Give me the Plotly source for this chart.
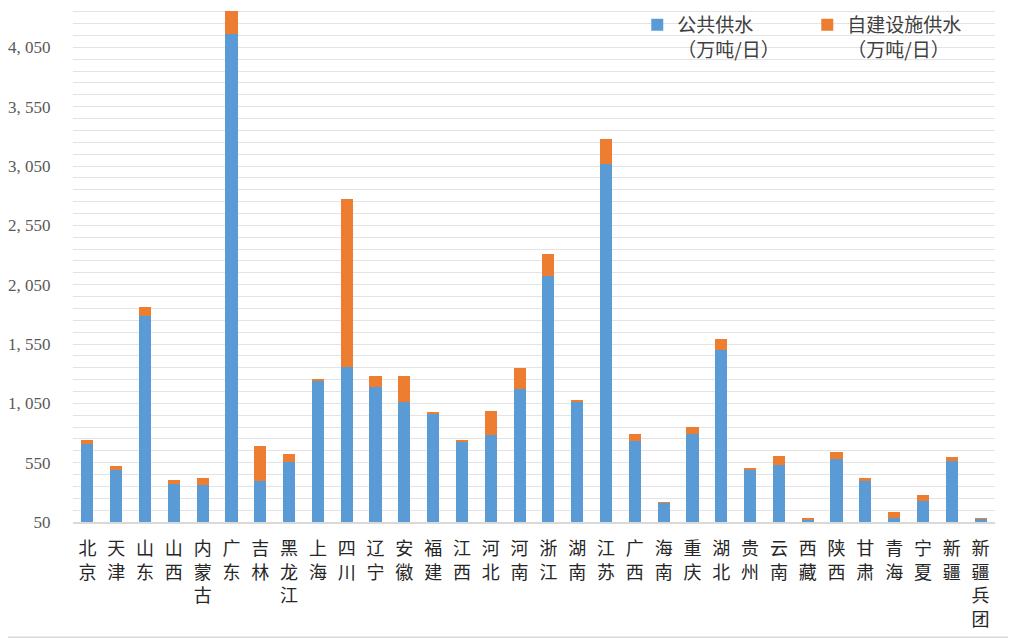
import plotly.graph_objects as go

# 各省份城市供水能力（万吨/日）
provinces = ["北京", "天津", "山东", "山西", "内蒙古", "广东", "吉林", "黑龙江", "上海",
             "四川", "辽宁", "安徽", "福建", "江西", "河北", "河南", "浙江", "湖南",
             "江苏", "广西", "海南", "重庆", "湖北", "贵州", "云南", "西藏", "陕西",
             "甘肃", "青海", "宁夏", "新疆", "新疆兵团"]
public_supply = [710, 490, 1785, 374, 360, 4163, 392, 557, 1246,
                 1359, 1188, 1058, 957, 731, 786, 1174, 2121, 1058,
                 3071, 734, 212, 792, 1498, 493, 531, 67, 577,
                 398, 82, 227, 568, 82]
self_supply = [35, 32, 75, 26, 58, 194, 295, 64, 6,
               1414, 96, 226, 23, 11, 200, 174, 185, 20,
               209, 58, 3, 60, 93, 9, 72, 12, 61,
               23, 49, 49, 27, 1]

tick_vals = [50, 550, 1050, 1550, 2050, 2550, 3050, 3550, 4050]
tick_text = [f"{v:,}".replace(",", ", ") for v in tick_vals]

# 竖排省份名
labels = ["<br>".join(p) for p in provinces]

fig = go.Figure()
fig.add_trace(go.Bar(x=labels, y=public_supply, name="公共供水<br>（万吨/日）",
                     marker=dict(color="#5b9bd5", line=dict(width=0))))
fig.add_trace(go.Bar(x=labels, y=self_supply, name="自建设施供水<br>（万吨/日）",
                     marker=dict(color="#ed7d31", line=dict(width=0))))

# 页面 body 有 8px 边距，尺寸和边距相应减去
fig.update_layout(
    width=1008,
    height=630,
    barmode="stack",
    bargap=0.58,
    plot_bgcolor="white",
    paper_bgcolor="white",
    font=dict(family="Noto Sans CJK SC", color="#595959", size=18),
    margin=dict(l=65, r=21, t=2, b=115.5, autoexpand=False),
    legend=dict(orientation="h", x=0.612, y=1.008, xanchor="left", yanchor="top",
                font=dict(size=19, color="#404040"), bgcolor="rgba(0,0,0,0)",
                valign="top", itemwidth=30, entrywidth=125, entrywidthmode="pixels",
                traceorder="normal"),
    shapes=[dict(type="line", xref="paper", yref="paper", x0=-0.08, x1=1.03,
                 y0=-0.2254, y1=-0.2254, line=dict(color="#d9d9d9", width=2))],
)
fig.update_xaxes(showline=True, linecolor="#d9d9d9", linewidth=1.5, automargin=False,
                 ticks="outside", ticklen=10, tickcolor="rgba(0,0,0,0)",
                 tickfont=dict(family="Noto Sans CJK SC", size=18, color="#262626"))
fig.update_yaxes(range=[50, 4365], tickvals=tick_vals, ticktext=tick_text, automargin=False,
                 showgrid=True, gridcolor="#e3e3e3", gridwidth=1,
                 minor=dict(dtick=100, tick0=50, showgrid=True, gridcolor="#e3e3e3", gridwidth=1),
                 zeroline=False, ticks="outside", ticklen=18, tickcolor="rgba(0,0,0,0)",
                 tickfont=dict(family="Liberation Serif, Noto Sans CJK SC", size=17, color="#595959"))

fig.write_html("out.html")
